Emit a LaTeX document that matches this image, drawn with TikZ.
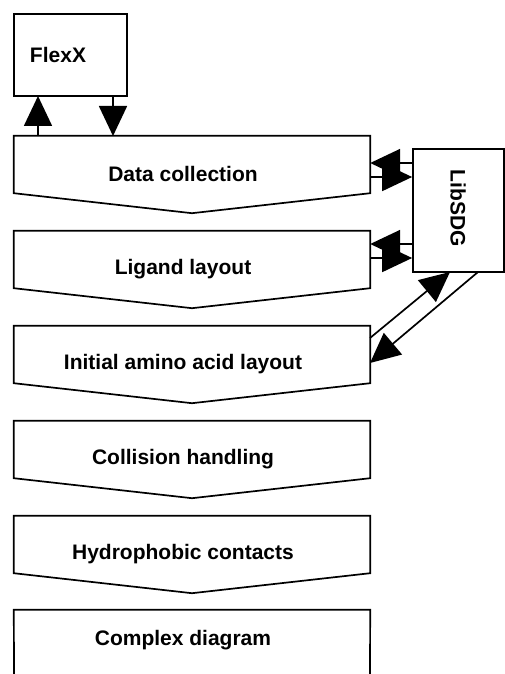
\documentclass[tikz,border=0pt]{standalone}
\usepackage{fontspec}
\setmainfont{Liberation Sans}
\usetikzlibrary{arrows.meta,calc}

\tikzset{
  outline/.style={line width=1.7pt, line join=miter},
  stepbox/.style={rectangle, draw=none, minimum width=356pt, minimum height=57pt, inner sep=0pt},
  steplabel/.style={font=\fontsize{21}{24}\selectfont\bfseries, inner sep=0pt},
  flow/.style={line width=1.7pt, -{Triangle[length=30pt,width=28pt]}},
}

\begin{document}
\begin{tikzpicture}[x=1pt,y=-1pt]
  \useasboundingbox (0,0) rectangle (505,674);

  % FlexX and LibSDG boxes
  \node[rectangle, draw, outline, minimum width=113pt, minimum height=82pt, inner sep=0pt] (flexx) at (70.5,55) {};
  \node[steplabel] (flexxlabel) at (58,55) {FlexX};
  \node[rectangle, draw, outline, minimum width=91pt, minimum height=123pt, inner sep=0pt] (libsdg) at (458.5,210.5) {};
  \node[steplabel, rotate=-90] (libsdglabel) at (458,208) {LibSDG};

  % Pipeline steps (rectangles closed by a downward chevron)
  \foreach \name/\top/\txt in {dc/136/Data collection, lig/231/Ligand layout,
      init/326/Initial amino acid layout, coll/421/Collision handling,
      hyd/516/Hydrophobic contacts} {
    \node[stepbox] (\name) at (192,\top+28.5) {};
    \draw[outline] (\name.north west) -- (\name.north east) -- (\name.south east)
      -- ($(\name.south)+(0,20)$) -- (\name.south west) -- cycle;
    \node[steplabel] (\name-label) at (183,\top+38) {\txt};
  }

  % Last step, open at the bottom
  \node[stepbox] (cd) at (192,638.5) {};
  \draw[outline] (14,674) -- (cd.north west) -- (cd.north east) -- (370,674);
  \node[steplabel] (cd-label) at (183,640) {Complex diagram};

  % Connectors between FlexX and data collection
  \coordinate (dcUp)   at (38,136);
  \coordinate (fxUp)   at (38,96);
  \coordinate (fxDown) at (113,96);
  \coordinate (dcDown) at (113,136);
  \draw[flow] (dcUp) -- (fxUp);
  \draw[flow] (fxDown) -- (dcDown);

  % Connectors between LibSDG and the steps
  \draw[flow] (libsdg.west |- 0,163) -- (dc.east |- 0,163);
  \draw[flow] (dc.east |- 0,177) -- (libsdg.west |- 0,177);
  \draw[flow] (libsdg.west |- 0,244) -- (lig.east |- 0,244);
  \draw[flow] (lig.east |- 0,258) -- (libsdg.west |- 0,258);

  \coordinate (initA) at (370,338);
  \coordinate (sdgA)  at (450,272);
  \coordinate (sdgB)  at (478,272);
  \coordinate (initB) at (370,363);
  \draw[flow] (initA) -- (sdgA);
  \draw[flow] (sdgB) -- (initB);
\end{tikzpicture}
\end{document}
